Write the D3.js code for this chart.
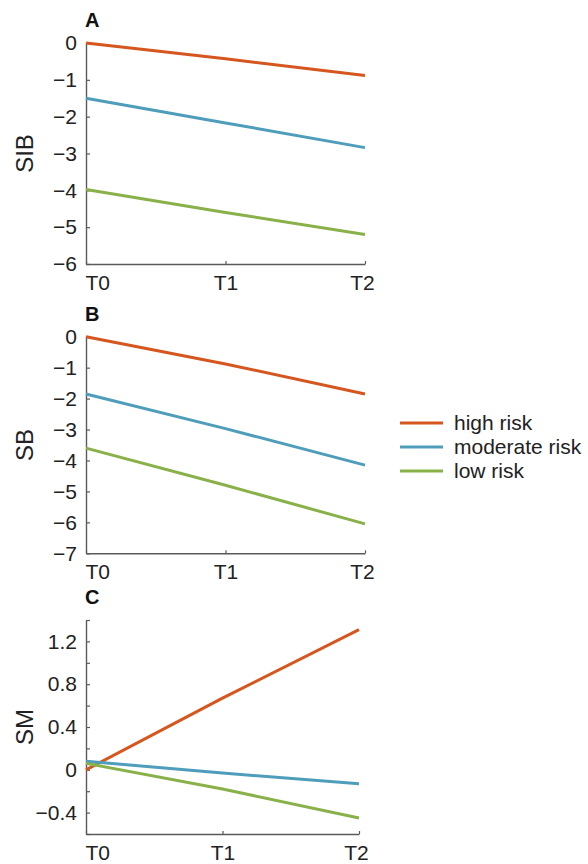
<!DOCTYPE html>
<html>
<head>
<meta charset="utf-8">
<script src="https://cdn.jsdelivr.net/npm/d3@7"></script>
<style>
  html, body { margin: 0; padding: 0; background: #fff; }
  svg { display: block; font-family: "Liberation Sans", Arial, sans-serif; }
</style>
</head>
<body>
<svg id="chart" width="588" height="864"></svg>
<script>
// ---- data ----
const timepoints = ["T0", "T1", "T2"];
const seriesNames = ["high risk", "moderate risk", "low risk"];
const seriesColors = ["#D5561E", "#4E9DBB", "#89B14A"];

const sibHigh = [0, -0.43, -0.88];
const sibModerate = [-1.5, -2.17, -2.84];
const sibLow = [-3.98, -4.6, -5.2];

const sbHigh = [0, -0.88, -1.85];
const sbModerate = [-1.85, -2.97, -4.15];
const sbLow = [-3.6, -4.8, -6.05];

const smHigh = [0, 0.67, 1.31];
const smModerate = [0.08, -0.03, -0.13];
const smLow = [0.06, -0.18, -0.45];

const sibTicks = [0, -1, -2, -3, -4, -5, -6];
const sbTicks = [0, -1, -2, -3, -4, -5, -6, -7];
const smTicks = [-0.6, -0.4, -0.2, 0, 0.2, 0.4, 0.6, 0.8, 1.0, 1.2, 1.4];
const smTickLabels = ["", "\u22120.4", "", "0", "", "0.4", "", "0.8", "", "1.2", ""];

// ---- layout ----
const panels = [
  { letter: "A", ylabel: "SIB", series: [sibHigh, sibModerate, sibLow], domain: [-6, 0],
    ticks: sibTicks, labels: null, x0: 86, x1: 365, yTop: 43, yBot: 264 },
  { letter: "B", ylabel: "SB", series: [sbHigh, sbModerate, sbLow], domain: [-7, 0],
    ticks: sbTicks, labels: null, x0: 86, x1: 365, yTop: 336.7, yBot: 553.3 },
  { letter: "C", ylabel: "SM", series: [smHigh, smModerate, smLow], domain: [-0.6, 1.4],
    ticks: smTicks, labels: smTickLabels, x0: 86, x1: 359, yTop: 620, yBot: 834 }
];

const svg = d3.select("#chart");
const axisColor = "#5a5a5a";
const textColor = "#222";

panels.forEach(p => {
  const x = d3.scalePoint().domain(timepoints).range([p.x0, p.x1]);
  const y = d3.scaleLinear().domain(p.domain).range([p.yBot, p.yTop]);
  const g = svg.append("g");

  // y axis
  const yAxis = d3.axisLeft(y).tickValues(p.ticks).tickSizeInner(-4).tickSizeOuter(0).tickPadding(9)
    .tickFormat((d, i) => p.labels ? p.labels[i] : (d === 0 ? "0" : "\u2212" + Math.abs(d)));
  const ya = g.append("g").attr("transform", `translate(${p.x0},0)`).call(yAxis);

  // x axis
  const xAxis = d3.axisBottom(x).tickSizeInner(-3).tickSizeOuter(0).tickPadding(8);
  const xa = g.append("g").attr("transform", `translate(0,${p.yBot})`).call(xAxis);

  [ya, xa].forEach(a => {
    a.select(".domain").attr("stroke", axisColor).attr("stroke-width", 1.4);
    a.selectAll(".tick line").attr("stroke", axisColor).attr("stroke-width", 1.2);
    a.selectAll(".tick text").attr("fill", textColor).attr("font-size", 21)
      .attr("font-family", "Liberation Sans, Arial, sans-serif");
  });
  xa.selectAll(".tick text").attr("dy", "0.85em")
    .attr("text-anchor", (d, i) => i === 0 ? "start" : "middle")
    .attr("dx", (d, i) => i === 0 ? -1 : (i === 2 ? -3 : 0));

  // lines
  const line = d3.line().x((d, i) => x(timepoints[i])).y(d => y(d));
  p.series.forEach((s, k) => {
    g.append("path").datum(s).attr("d", line)
      .attr("fill", "none").attr("stroke", seriesColors[k])
      .attr("stroke-width", 3).attr("stroke-linecap", "butt");
  });

  // panel letter
  g.append("text").attr("x", p.x0 - 1).attr("y", p.yTop - 16)
    .attr("font-size", 20).attr("font-weight", "bold").attr("fill", "#111")
    .text(p.letter);

  // y label
  g.append("text")
    .attr("transform", `translate(33,${(p.yTop + p.yBot) / 2}) rotate(-90)`)
    .attr("text-anchor", "middle").attr("font-size", 24).attr("fill", textColor)
    .text(p.ylabel);
});

// legend
const legend = svg.append("g").attr("transform", "translate(400,423)");
seriesNames.forEach((n, i) => {
  const row = legend.append("g").attr("transform", `translate(0,${i * 24})`);
  row.append("line").attr("x1", 0).attr("x2", 43).attr("y1", 0).attr("y2", 0)
    .attr("stroke", seriesColors[i]).attr("stroke-width", 3);
  row.append("text").attr("x", 54).attr("y", 0).attr("dy", "0.35em")
    .attr("font-size", 21).attr("fill", textColor).text(n);
});
</script>
</body>
</html>
